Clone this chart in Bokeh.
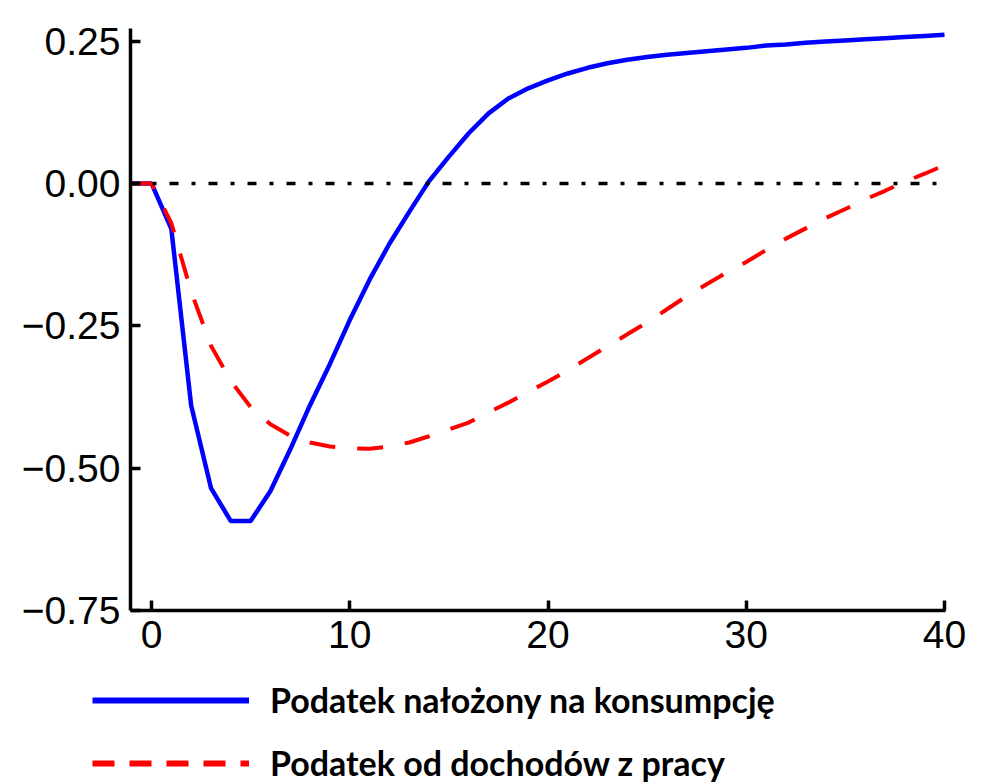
from bokeh.plotting import figure
from bokeh.layouts import column, row
from bokeh.models import Range1d, FixedTicker, Legend, LegendItem, Span
from bokeh.embed import file_html
from bokeh.resources import INLINE

# Impulse responses by quarter after the shock (quarter -1 is the steady state)
quarters = list(range(-1, 41))

consumption_tax = [
    0.0, 0.0, -0.08, -0.39, -0.535, -0.593, -0.593, -0.54, -0.467, -0.389,
    -0.317, -0.240, -0.169, -0.106, -0.050, 0.004, 0.047, 0.088, 0.123, 0.149,
    0.167, 0.181, 0.193, 0.203, 0.211, 0.217, 0.222, 0.226, 0.229, 0.232,
    0.235, 0.238, 0.242, 0.244, 0.247, 0.249, 0.251, 0.253, 0.255, 0.257,
    0.259, 0.261,
]

labour_tax = [
    0.0, 0.0, -0.07, -0.19, -0.285, -0.347, -0.393, -0.423, -0.443, -0.455,
    -0.462, -0.465, -0.466, -0.462, -0.455, -0.444, -0.432, -0.420, -0.402, -0.385,
    -0.366, -0.348, -0.328, -0.307, -0.286, -0.265, -0.244, -0.221, -0.198, -0.177,
    -0.157, -0.138, -0.117, -0.097, -0.079, -0.061, -0.045, -0.028, -0.013, 0.003,
    0.017, 0.032,
]

x_ticks = [0, 10, 20, 30, 40]
y_ticks = [0.25, 0.0, -0.25, -0.5, -0.75]
y_tick_labels = {0.25: "0.25", 0.0: "0.00", -0.25: "\u22120.25",
                 -0.5: "\u22120.50", -0.75: "\u22120.75"}

series_names = ["Podatek nałożony na konsumpcję", "Podatek od dochodów z pracy"]

p = figure(width=986, height=660, output_backend="svg", toolbar_location=None,
           x_range=Range1d(-1.06, 40.05), y_range=Range1d(-0.75, 0.272),
           min_border_left=130, min_border_right=41, min_border_top=28,
           min_border_bottom=50)
p.outline_line_color = None
p.grid.visible = False
p.background_fill_color = "white"
p.border_fill_color = "white"

for ax in (p.xaxis[0], p.yaxis[0]):
    ax.axis_line_width = 3.5
    ax.axis_line_color = "black"
    ax.major_tick_line_width = 3.5
    ax.major_tick_line_color = "black"
    ax.major_tick_in = 10
    ax.major_tick_out = 0
    ax.minor_tick_line_color = None
    ax.major_label_text_font = "Liberation Sans"
    ax.major_label_text_font_size = "39px"
    ax.major_label_text_color = "black"

p.xaxis.ticker = FixedTicker(ticks=x_ticks)
p.xaxis.major_label_standoff = 10
p.yaxis.ticker = FixedTicker(ticks=y_ticks)
p.yaxis.major_label_overrides = y_tick_labels
p.yaxis.major_label_standoff = 10

# Zero reference line
p.add_layout(Span(location=0, dimension="width", line_color="black",
                  line_width=3.5, line_dash="9 13 4 13"))

p.line(quarters, consumption_tax, line_color="#0000ff", line_width=4.5)
p.line(quarters, labour_tax, line_color="#ff0000", line_width=4,
       line_dash="26 22")

# Key panel underneath the chart
key = figure(width=986, height=124, output_backend="svg", toolbar_location=None,
             x_range=Range1d(0, 1), y_range=Range1d(0, 1),
             x_axis_location=None, y_axis_location=None,
             min_border_left=0, min_border_right=0, min_border_top=0,
             min_border_bottom=0)
key.grid.visible = False
key.outline_line_color = None
key.background_fill_color = "white"
key.border_fill_color = "white"

nan = float("nan")
key_blue = key.line([nan], [nan], line_color="#0000ff", line_width=6)
key_red = key.line([nan], [nan], line_color="#ff0000", line_width=6,
                   line_dash="22 15")

legend = Legend(items=[LegendItem(label=series_names[0], renderers=[key_blue]),
                       LegendItem(label=series_names[1], renderers=[key_red])],
                location=(92, 1), orientation="vertical")
legend.border_line_color = None
legend.background_fill_alpha = 0
legend.glyph_width = 157
legend.glyph_height = 36
legend.label_height = 36
legend.label_standoff = 21
legend.label_text_font = "Lato"
legend.label_text_font_style = "bold"
legend.label_text_font_size = "34px"
legend.label_text_color = "black"
legend.spacing = 22
legend.padding = 0
legend.margin = 0
key.add_layout(legend)

layout = column(p, row(key, spacing=0), spacing=0)
open("out.html", "w").write(file_html(layout, INLINE))
